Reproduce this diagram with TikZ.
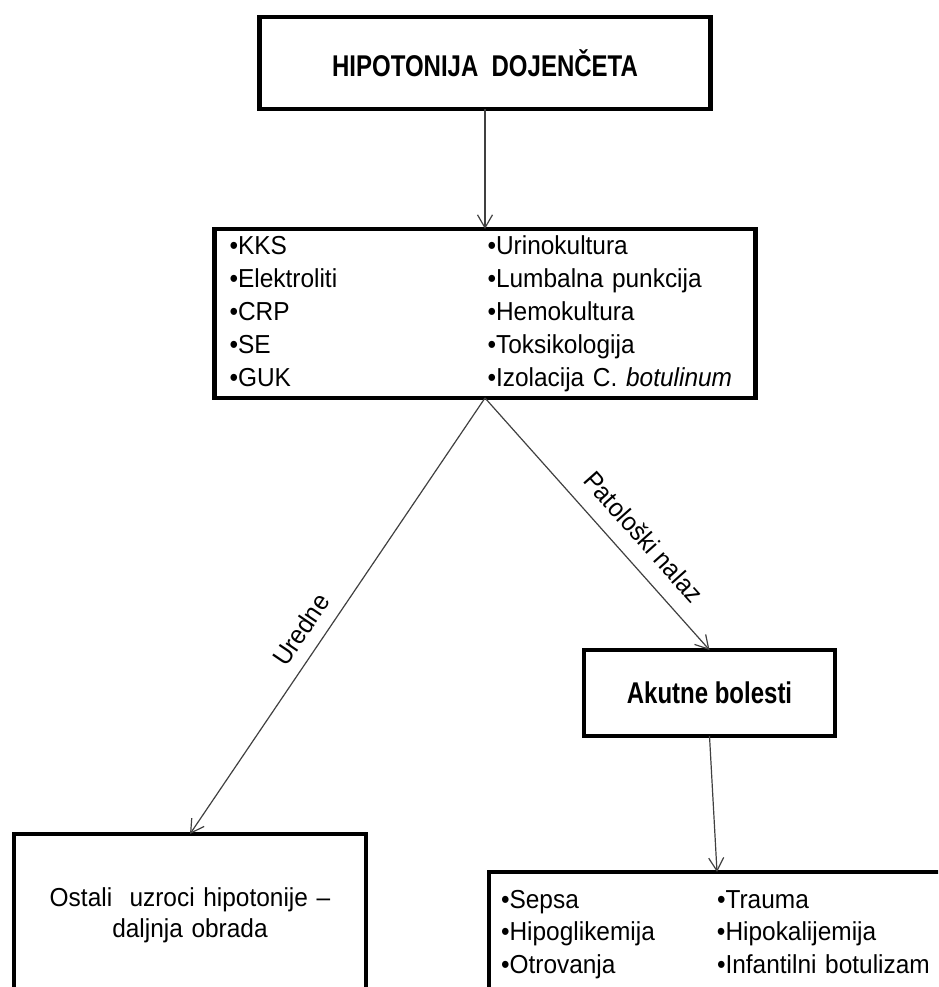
\documentclass[tikz,border=0pt]{standalone}
\usepackage{fontspec}
\setmainfont{Liberation Sans}[FakeStretch=0.94]
\newfontfamily\naslovfont{Liberation Sans}[FakeStretch=0.8]
\usetikzlibrary{positioning,arrows.meta}

\tikzset{
  box/.style={draw, line width=4.2pt, outer sep=0pt, inner sep=0pt},
  tekst/.style={font=\fontsize{26}{33}\selectfont},
  naslov/.style={font=\naslovfont\fontsize{30}{34}\selectfont\bfseries},
  strelica/.style={draw=black!75, line width=1.2pt, -{Straight Barb[length=13pt,width=15pt]}},
  grana/.style={sloped, above, inner xsep=0pt, font=\fontsize{26}{30}\selectfont}
}

\begin{document}
\begin{tikzpicture}[x=1pt, y=-1pt]
			\useasboundingbox (0,0) rectangle (938,987);
			\clip (0,0) rectangle (938,987);
			\node[box, naslov, minimum width=451pt, minimum height=92pt] (hipotonija) at (485,63) {HIPOTONIJA\ \ DOJENČETA} ;
			\node[box, tekst, text width=511pt, inner xsep=15pt, minimum height=169pt, below=120pt of hipotonija] (testovi) {%
				\begin{tabular}{@{}p{258pt}@{}l@{}}
				•KKS & •Urinokultura\\
				•Elektroliti & •Lumbalna punkcija\\
				•CRP & •Hemokultura\\
				•SE & •Toksikologija\\
				•GUK & •Izolacija C. \textit{botulinum}
				\end{tabular}} ;
			\node[box, naslov, minimum width=251pt, minimum height=86pt, below right=252pt and 99pt of testovi.south] (akutne) {Akutne bolesti} ;
			\node[box, tekst, font=\fontsize{26}{31}\selectfont, text width=330pt, align=center, inner xsep=11pt, minimum height=163pt, below left=436pt and 119pt of testovi.south] (ostali) {Ostali\ \ uzroci hipotonije –\\ daljnja obrada} ;
			\node[box, tekst, font=\fontsize{26}{32.5}\selectfont, text width=440pt, align=left, inner xsep=12pt, minimum height=124pt, below right=38pt and 123pt of ostali.north east] (lista) {%
				\begin{tabular}{@{}p{216pt}@{}l@{}}
				•Sepsa & •Trauma\\
				•Hipoglikemija & •Hipokalijemija\\
				•Otrovanja & •Infantilni botulizam
				\end{tabular}} ;
			\draw[strelica] (hipotonija) -- (testovi) ;
			\draw[strelica] (testovi.south) -- node[grana, pos=0.56, inner ysep=12.5pt] {Uredne} (ostali.north) ;
			\draw[strelica] (testovi.south) -- node[grana, pos=0.62, inner ysep=16pt] {Patološki nalaz} (akutne.north) ;
			\draw[strelica] (akutne.south) -- ([xshift=228pt]lista.north west) ;
		\end{tikzpicture}
\end{document}
